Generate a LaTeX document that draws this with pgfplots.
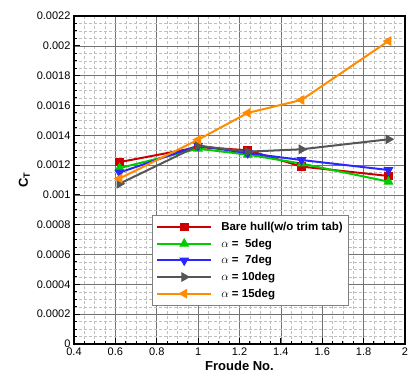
\documentclass[border=0pt]{standalone}
\usepackage{fontspec}
\setmainfont{Liberation Sans}
\usepackage{pgfplots}
\pgfplotsset{compat=1.18}
\definecolor{cred}{RGB}{204,0,0}
\definecolor{cgreen}{RGB}{0,204,0}
\definecolor{cblue}{RGB}{40,40,255}
\definecolor{cgray}{RGB}{85,85,85}
\definecolor{corange}{RGB}{255,140,0}
\begin{document}
\begin{tikzpicture}
\begin{axis}[
  name=ax,
  scale only axis,
  width=331pt, height=328pt,
  xmin=0.4, xmax=2, ymin=0, ymax=0.0022,
  xtick={0.4,0.6,...,2.0},
  ytick={0,0.0002,...,0.00221},
  minor tick num=3,
  grid=both,
  major grid style={solid, draw=black!55, line width=0.6pt},
  minor grid style={densely dashed, draw=black!25, line width=0.4pt},
  tick align=inside,
  xtick pos=left, ytick pos=left,
  major tick length=6pt, minor tick length=3pt,
  every tick/.style={black, line width=1pt},
  axis line style={line width=1.3pt},
  scaled y ticks=false,
  yticklabel style={/pgf/number format/fixed, /pgf/number format/precision=4},
  xticklabel style={/pgf/number format/fixed},
  /pgf/number format/assume math mode=true,
  tick label style={font=\fontsize{11}{12}\selectfont},
  xlabel={\textbf{Froude No.}},
  ylabel={\textbf{C}\textsubscript{\textbf{T}}},
  label style={font=\fontsize{13}{14}\selectfont},
  xlabel style={yshift=1pt},
  legend style={at={(axis cs:0.777,0.000865)}, anchor=north west, draw=black!50, fill=white,
    font=\bfseries\fontsize{11.5}{13}\selectfont, row sep=2.8pt, inner xsep=4pt, inner ysep=5pt,
    /tikz/every odd column/.append style={column sep=7pt}},
  legend cell align=left,
  legend image code/.code={\draw[line width=2pt, mark repeat=2,mark phase=2] plot coordinates {(0cm,0cm) (0.95cm,0cm) (1.9cm,0cm)};},
]
\addplot[cred, line width=2pt, mark=square*, mark size=3.8pt, mark options={line width=1pt}] coordinates {(0.62,0.00122) (1.0,0.00132) (1.24,0.00130) (1.5,0.00119) (1.92,0.001127)};
\addlegendentry{Bare hull(w/o trim tab)}
\addplot[cgreen, line width=2pt, mark=triangle*, mark size=4.8pt, mark options={line width=1pt}] coordinates {(0.62,0.00118) (1.0,0.00131) (1.24,0.00127) (1.5,0.00121) (1.92,0.001089)};
\addlegendentry{$\alpha$ =\ \ 5deg}
\addplot[cblue, line width=2pt, mark=triangle*, mark size=4.8pt, mark options={rotate=180, line width=1pt}] coordinates {(0.62,0.00115) (1.0,0.00133) (1.24,0.00128) (1.5,0.001234) (1.92,0.001167)};
\addlegendentry{$\alpha$ =\ \ 7deg}
\addplot[cgray, line width=2pt, mark=triangle*, mark size=4.8pt, mark options={rotate=-90, line width=1pt}] coordinates {(0.62,0.001075) (1.0,0.00133) (1.24,0.00129) (1.5,0.001306) (1.92,0.001373)};
\addlegendentry{$\alpha$ = 10deg}
\addplot[corange, line width=2pt, mark=triangle*, mark size=4.8pt, mark options={rotate=90, line width=1pt}] coordinates {(0.62,0.00111) (1.0,0.00137) (1.24,0.00155) (1.5,0.001637) (1.92,0.002032)};
\addlegendentry{$\alpha$ = 15deg}
\end{axis}
\path (ax.north east) ++(10pt,16pt);
\path (ax.south west) ++(-74pt,-35pt);
\end{tikzpicture}
\end{document}
